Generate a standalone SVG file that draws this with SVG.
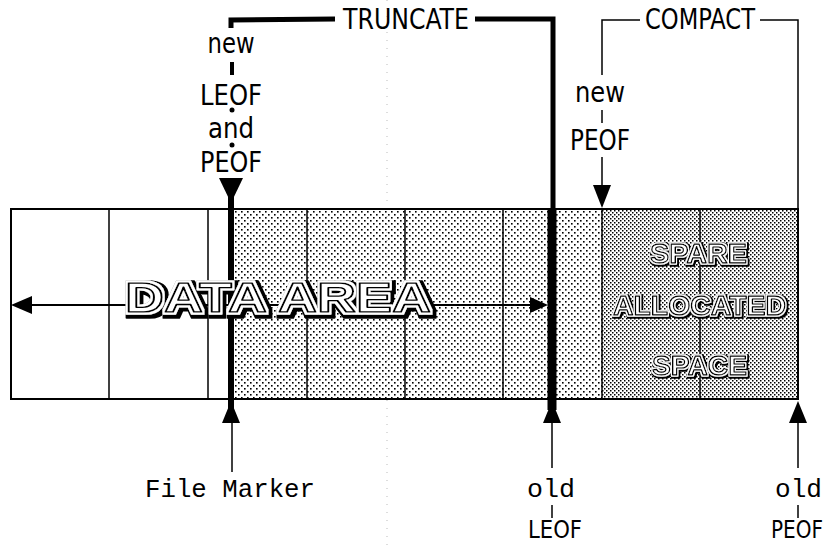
<svg xmlns="http://www.w3.org/2000/svg" width="828" height="547" viewBox="0 0 828 547">
<defs>
<pattern id="dots" width="6" height="6" patternUnits="userSpaceOnUse">
<rect x="1" y="1" width="1.6" height="1.6" fill="#000"/>
<rect x="4" y="4" width="1.6" height="1.6" fill="#000"/>
</pattern>
<pattern id="dense" width="4" height="4" patternUnits="userSpaceOnUse">
<rect x="0" y="0" width="1.5" height="1.5" fill="#000"/>
<rect x="2" y="2" width="1.5" height="1.5" fill="#000"/>
</pattern>
<filter id="outlineBig" x="-6%" y="-30%" width="112%" height="160%">
<feMorphology in="SourceAlpha" operator="dilate" radius="3.6" result="outer"/>
<feOffset in="outer" dx="1.5" dy="1.5" result="outerOff"/>
<feMorphology in="SourceAlpha" operator="dilate" radius="2.2" result="ring"/>
<feFlood flood-color="#fff" result="white"/>
<feComposite in="white" in2="ring" operator="in" result="ringW"/>
<feMerge><feMergeNode in="outerOff"/><feMergeNode in="ringW"/><feMergeNode in="SourceGraphic"/></feMerge>
</filter>
<filter id="outlineSmall" x="-8%" y="-40%" width="116%" height="180%">
<feMorphology in="SourceAlpha" operator="dilate" radius="2.4" result="outer"/>
<feOffset in="outer" dx="1.3" dy="1.3" result="outerOff"/>
<feMorphology in="SourceAlpha" operator="dilate" radius="1.1" result="ring"/>
<feFlood flood-color="#fff" result="white"/>
<feComposite in="white" in2="ring" operator="in" result="ringW"/>
<feMerge><feMergeNode in="outerOff"/><feMergeNode in="ringW"/><feMergeNode in="SourceGraphic"/></feMerge>
</filter>
</defs>
<style>
.lbl{font-family:"DejaVu Sans Condensed","Liberation Sans Narrow","Liberation Sans",sans-serif;font-size:28px;fill:#000;text-anchor:middle}
.lblb{font-family:"DejaVu Sans Condensed","Liberation Sans Narrow","Liberation Sans",sans-serif;font-size:24px;fill:#000;text-anchor:middle}
.mono{font-family:"Liberation Mono","DejaVu Sans Mono",monospace;font-size:26px;fill:#000}
.big{font-family:"Liberation Sans",Arial,sans-serif;font-weight:bold;fill:#fff;stroke:#000;stroke-linejoin:round}
.grid{stroke:#000;stroke-width:1.5;fill:none}
.thin{stroke:#000;stroke-width:1.5;fill:none}
.thick{stroke:#000;fill:none}
.ah{fill:#000}
</style>
<rect width="828" height="547" fill="#fff"/>
<line x1="387" y1="0" x2="387" y2="547" stroke="#bbb" stroke-width="1" stroke-dasharray="1 7"/>

<g id="file-box">
<rect x="231" y="209" width="371" height="190" fill="url(#dots)"/>
<rect x="602" y="209" width="196" height="190" fill="url(#dense)"/>
<rect x="11" y="209" width="787" height="190" fill="none" stroke="#000" stroke-width="2"/>
<line class="grid" x1="109" y1="209" x2="109" y2="399"/>
<line class="grid" x1="208" y1="209" x2="208" y2="399"/>
<line class="grid" x1="307" y1="209" x2="307" y2="399"/>
<line class="grid" x1="405" y1="209" x2="405" y2="399"/>
<line class="grid" x1="503" y1="209" x2="503" y2="399"/>
<line class="grid" x1="602" y1="209" x2="602" y2="399"/>
<line class="grid" x1="700" y1="209" x2="700" y2="399"/>
</g>

<g id="connectors">
<line x1="28" y1="305" x2="535" y2="305" stroke="#000" stroke-width="2"/>
<polygon class="ah" points="11,305 32,296 32,314"/>
<polygon class="ah" points="548,305 530,297 530,313"/>
<line class="thick" x1="231" y1="196" x2="231" y2="410" stroke-width="6"/>
<line class="thick" x1="552" y1="209" x2="552" y2="410" stroke-width="9"/>
<polyline class="thick" points="231,28 231,20 335,19" stroke-width="5"/>
<polyline class="thick" points="475,19 553,19 553,209" stroke-width="5"/>
<line class="thick" x1="232" y1="62" x2="232" y2="75" stroke-width="4"/>
<circle cx="232" cy="110" r="2.5" fill="#000"/>
<circle cx="232" cy="145" r="2.5" fill="#000"/>
<polygon class="ah" points="219,178 243,178 231,203"/>
<polyline class="thin" points="602,75 602,20 640,20"/>
<polyline class="thin" points="760,20 798,20 798,209"/>
<line class="thin" x1="602" y1="110" x2="602" y2="123"/>
<line class="thin" x1="602" y1="157" x2="602" y2="188"/>
<polygon class="ah" points="593,185 611,185 602,208"/>
<polygon class="ah" points="231,401 222,423 240,423"/>
<line class="thin" x1="232" y1="420" x2="232" y2="472"/>
<polygon class="ah" points="552,401 543,423 561,423"/>
<line class="thin" x1="552" y1="420" x2="552" y2="468"/>
<line class="thin" x1="552" y1="505" x2="552" y2="518"/>
<polygon class="ah" points="798,401 789,423 807,423"/>
<line class="thin" x1="798" y1="420" x2="798" y2="468"/>
<line class="thin" x1="798" y1="505" x2="798" y2="518"/>
</g>

<g id="data-area-label">
<text class="big" x="125" y="312" font-size="42" stroke-width="1.6" filter="url(#outlineBig)" textLength="306" lengthAdjust="spacingAndGlyphs">DATA AREA</text>
</g>

<g id="spare-label">
<text class="big" x="650" y="263" font-size="27" stroke-width="1.3" filter="url(#outlineSmall)" textLength="97" lengthAdjust="spacingAndGlyphs">SPARE</text>
<text class="big" x="613" y="315" font-size="27" stroke-width="1.3" filter="url(#outlineSmall)" textLength="173" lengthAdjust="spacingAndGlyphs">ALLOCATED</text>
<text class="big" x="652" y="375" font-size="27" stroke-width="1.3" filter="url(#outlineSmall)" textLength="95" lengthAdjust="spacingAndGlyphs">SPACE</text>
</g>

<g id="truncate">
<text class="lbl" x="406" y="29" textLength="126" lengthAdjust="spacingAndGlyphs">TRUNCATE</text>
</g>
<g id="compact">
<text class="lbl" x="700" y="29" textLength="110" lengthAdjust="spacingAndGlyphs">COMPACT</text>
</g>
<g id="new-leof-peof">
<text class="lbl" x="231" y="53" textLength="47" lengthAdjust="spacingAndGlyphs">new</text>
<text class="lbl" x="231" y="105" textLength="62" lengthAdjust="spacingAndGlyphs">LEOF</text>
<text class="lbl" x="231" y="138" textLength="46" lengthAdjust="spacingAndGlyphs">and</text>
<text class="lbl" x="231" y="172" textLength="62" lengthAdjust="spacingAndGlyphs">PEOF</text>
</g>
<g id="new-peof">
<text class="lbl" x="600" y="102" textLength="50" lengthAdjust="spacingAndGlyphs">new</text>
<text class="lbl" x="600" y="150" textLength="60" lengthAdjust="spacingAndGlyphs">PEOF</text>
</g>
<g id="file-marker">
<text class="mono" x="145" y="497" textLength="170" lengthAdjust="spacingAndGlyphs">File Marker</text>
</g>
<g id="old-leof">
<text class="mono" x="527" y="497" textLength="48" lengthAdjust="spacingAndGlyphs">old</text>
<text class="lblb" x="555" y="538" textLength="54" lengthAdjust="spacingAndGlyphs">LEOF</text>
</g>
<g id="old-peof">
<text class="mono" x="775" y="497" textLength="47" lengthAdjust="spacingAndGlyphs">old</text>
<text class="lblb" x="797" y="538" textLength="52" lengthAdjust="spacingAndGlyphs">PEOF</text>
</g>
</svg>
